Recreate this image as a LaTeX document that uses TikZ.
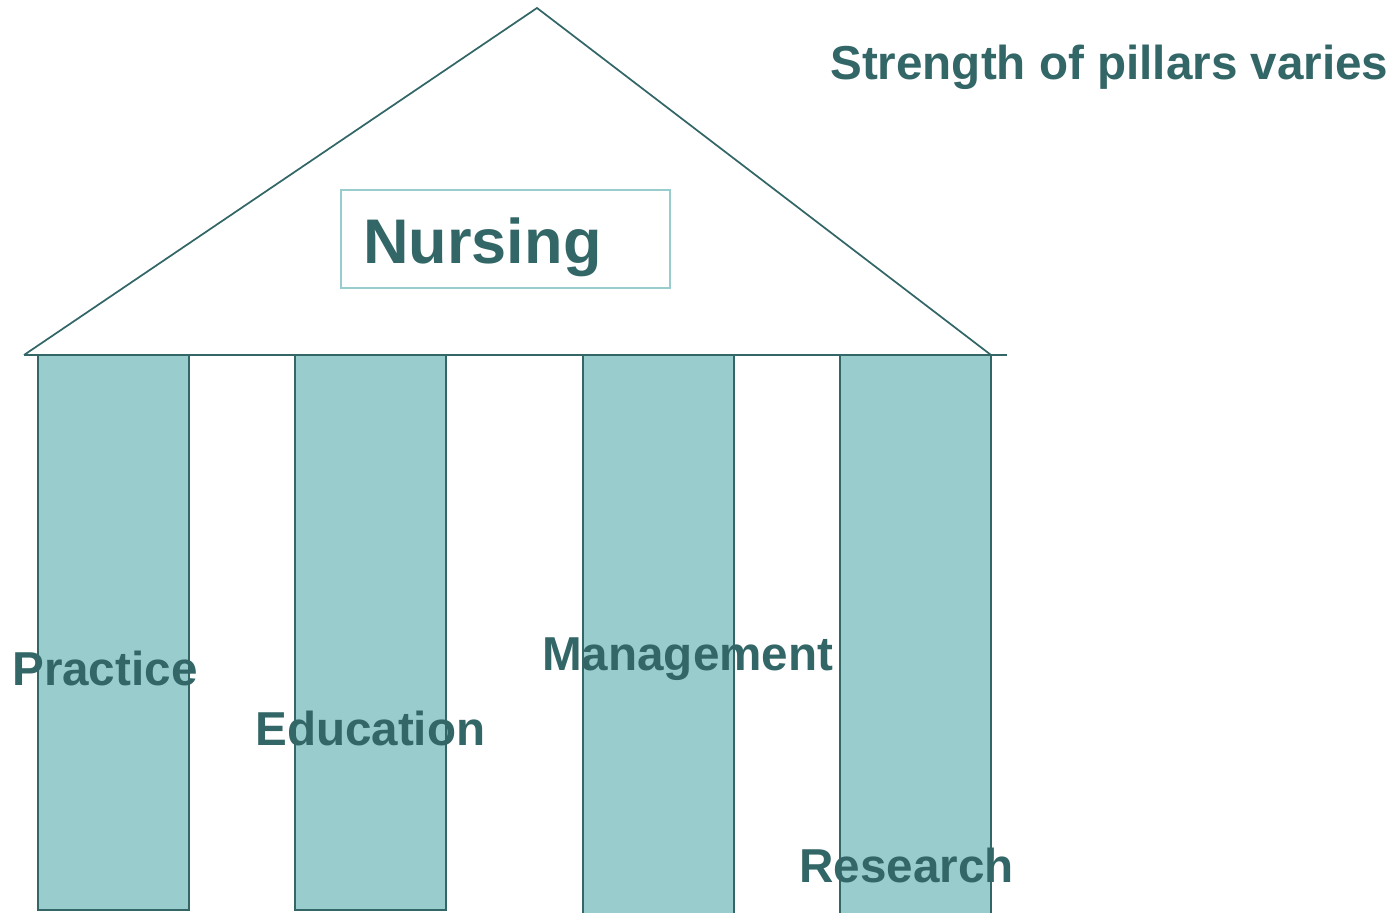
\documentclass[tikz,border=0pt]{standalone}
\usepackage{fontspec}
\setmainfont{Liberation Sans}
\definecolor{tealdark}{HTML}{336666}
\definecolor{teallight}{HTML}{99CCCC}
\begin{document}
\begin{tikzpicture}[x=0.75pt,y=-0.75pt,
  line/.style={draw=tealdark,line width=1.3pt},
  pillar/.style={draw=tealdark,fill=teallight,line width=1.3pt},
  lbl/.style={text=tealdark,font=\fontsize{35.7}{40}\selectfont\bfseries,anchor=base west,inner sep=0pt},
  titlelbl/.style={text=tealdark,font=\fontsize{47.3}{52}\selectfont\bfseries,anchor=base west,inner sep=0pt}]
\useasboundingbox (0,0) rectangle (1400,913);
% pillars
\draw[pillar] (38,355) rectangle (189,910);
\draw[pillar] (295,355) rectangle (446,910);
\draw[pillar] (583,355) rectangle (734,915);
\draw[pillar] (840,355) rectangle (991,915);
% roof
\coordinate (apex) at (537,8);
\coordinate (left) at (24,355);
\coordinate (right) at (991,355);
\coordinate (baseend) at (1007,355);
\draw[line,line join=miter] (left) -- (apex) -- (right);
\draw[line] (left) -- (baseend);
% Nursing box
\draw[draw=teallight,line width=1.3pt] (341,190) rectangle (670,288);
\node[titlelbl] (nursing) at (363,263) {Nursing};
% labels
\node[lbl] (title) at (830,80) {Strength of pillars varies};
\node[lbl] (practice) at (12,685) {Practice};
\node[lbl] (education) at (255,745) {Education};
\node[lbl] (management) at (542,670) {Management};
\node[lbl] (research) at (799,882) {Research};
\end{tikzpicture}
\end{document}
